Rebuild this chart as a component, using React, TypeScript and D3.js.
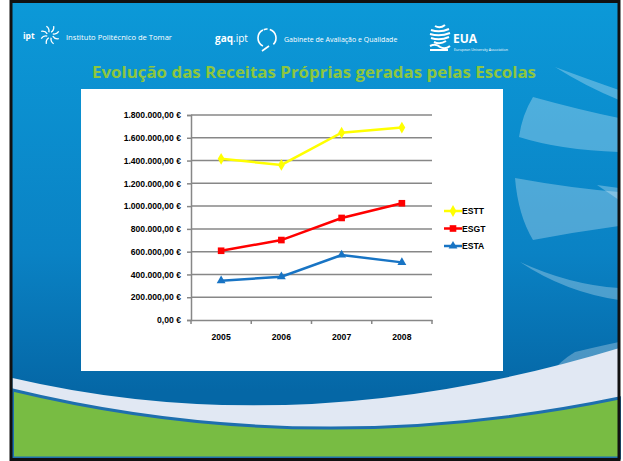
import React, { useEffect, useRef } from "react";
import * as d3 from "d3";

const years = ["2005", "2006", "2007", "2008"];
const seriesNames = ["ESTT", "ESGT", "ESTA"];
const esttValues = [1415000, 1362000, 1645000, 1690000];
const esgtValues = [608000, 702000, 896000, 1025000];
const estaValues = [345000, 380000, 571000, 506000];
const seriesColors = ["#ffff00", "#ff0000", "#1874c4"];
const markerTypes = ["diamond", "square", "triangle"];
const yTicks = [0, 200000, 400000, 600000, 800000, 1000000, 1200000, 1400000, 1600000, 1800000];
const title = "Evolução das Receitas Próprias geradas pelas Escolas";

const W = 623;
const H = 461;

const ptLocale = d3.formatLocale({
  decimal: ",",
  thousands: ".",
  grouping: [3],
  currency: ["", " €"],
});
const fmtEuro = ptLocale.format("$,.2f");

export default function App() {
  const svgRef = useRef<SVGSVGElement>(null);

  useEffect(() => {
    const svg = d3.select(svgRef.current);
    svg.selectAll("*").remove();

    // ---- slide background ----
    const defs = svg.append("defs");
    const grad = defs
      .append("linearGradient")
      .attr("id", "bg")
      .attr("x1", 0)
      .attr("y1", 0)
      .attr("x2", 0)
      .attr("y2", 1);
    grad.append("stop").attr("offset", "0%").attr("stop-color", "#0c99d8");
    grad.append("stop").attr("offset", "55%").attr("stop-color", "#0a82c4");
    grad.append("stop").attr("offset", "85%").attr("stop-color", "#0567a6");

    svg.append("rect").attr("x", 0).attr("y", 0).attr("width", W).attr("height", H).attr("fill", "#fff");
    svg
      .append("rect")
      .attr("x", 11)
      .attr("y", 1.5)
      .attr("width", 608)
      .attr("height", 458)
      .attr("fill", "url(#bg)");

    // light swooshes on the right
    const swooshes = [
      "M555,67 Q590,80 619,90 L619,100 Q585,86 555,67 Z",
      "M533,97 Q580,110 619,118 L619,152 Q560,150 519,137 Q522,115 533,97 Z",
      "M515,178 Q570,188 619,192 L619,226 Q575,232 533,240 Q518,215 515,178 Z",
      "M597,185 L619,188 L619,200 Z",
      "M520,262 Q570,285 619,288 L619,300 Q565,292 520,262 Z",
      "M540,400 Q545,370 575,352 Q600,346 619,342 L619,395 Z",
    ];
    svg
      .append("g")
      .selectAll("path")
      .data(swooshes)
      .join("path")
      .attr("d", (d) => d)
      .attr("fill", "#ffffff")
      .attr("fill-opacity", 0.28);

    // bottom waves
    svg
      .append("path")
      .attr("d", "M12.5,378 Q300,445 619.5,348 L619.5,458 L12.5,458 Z")
      .attr("fill", "#e1e8f3");
    svg
      .append("path")
      .attr("d", "M12.5,390 Q310,462 619.5,398 L619.5,458 L12.5,458 Z")
      .attr("fill", "#78bc43")
      .attr("stroke", "#1e6fae")
      .attr("stroke-width", 3);
    svg
      .append("rect")
      .attr("x", 11)
      .attr("y", 1.5)
      .attr("width", 608)
      .attr("height", 458)
      .attr("fill", "none")
      .attr("stroke", "#111")
      .attr("stroke-width", 3);

    // ---- header logos ----
    const hdr = svg.append("g").attr("fill", "#fff").attr("font-family", "'Open Sans', sans-serif");
    hdr.append("text").attr("x", 23).attr("y", 39).attr("font-size", 8.5).attr("font-weight", "bold").text("ipt");
    const star = hdr.append("g").attr("transform", "translate(50,35)").attr("stroke", "#fff").attr("stroke-width", 1.3).attr("fill", "none");
    d3.range(8).forEach((i) => {
      const a = (i / 8) * Math.PI * 2 + Math.PI / 8;
      const r1 = 3, r2 = 9.5;
      const cx = Math.cos(a + 0.35) * 6.5, cy = Math.sin(a + 0.35) * 6.5;
      star
        .append("path")
        .attr("d", `M${Math.cos(a) * r1},${Math.sin(a) * r1} Q${cx},${cy} ${Math.cos(a) * r2},${Math.sin(a) * r2}`);
    });
    hdr.append("text").attr("x", 66).attr("y", 40).attr("font-size", 7.6).text("Instituto Politécnico de Tomar");

    const gaq = hdr.append("text").attr("x", 215).attr("y", 42).attr("font-size", 10);
    gaq.append("tspan").attr("font-weight", "bold").text("gaq");
    gaq.append("tspan").text(".ipt");
    const br = hdr.append("g").attr("transform", "translate(267,38)").attr("stroke", "#fff").attr("stroke-width", 1.6).attr("fill", "none");
    const arc = d3.arc();
    br.append("path").attr("d", arc({ innerRadius: 9, outerRadius: 9, startAngle: Math.PI * 1.15, endAngle: Math.PI * 1.85 } as any) as string);
    br.append("path").attr("d", arc({ innerRadius: 9, outerRadius: 9, startAngle: Math.PI * 0.1, endAngle: Math.PI * 0.75 } as any) as string);
    br.append("path").attr("d", arc({ innerRadius: 9, outerRadius: 9, startAngle: -Math.PI * 0.12, endAngle: Math.PI * 0.02 } as any) as string);
    br.append("line").attr("x1", 2).attr("y1", 8).attr("x2", -5).attr("y2", 13);
    hdr.append("text").attr("x", 284).attr("y", 42).attr("font-size", 7).text("Gabinete de Avaliação e Qualidade");

    const globe = hdr.append("g").attr("transform", "translate(440,37)").attr("stroke", "#fff").attr("fill", "none").attr("stroke-width", 2);
    [-11, -7, -3, 1, 5].forEach((dy, i) => {
      const w = [5, 9, 10, 9, 6][i];
      globe.append("path").attr("d", `M${-w},${dy} Q0,${dy + 3} ${w},${dy - 1}`);
    });
    globe.append("path").attr("d", "M-10,9 Q-4,6 0,10 Q5,13 10,9");
    globe.append("line").attr("x1", -10).attr("y1", 13).attr("x2", 8).attr("y2", 13);
    hdr.append("text").attr("x", 453).attr("y", 43).attr("font-size", 12).attr("font-weight", "bold").text("EUA");
    hdr.append("text").attr("x", 454).attr("y", 51).attr("font-size", 3.6).text("European University Association");

    // ---- title ----
    svg
      .append("text")
      .attr("x", 92)
      .attr("y", 78)
      .attr("font-family", "'Open Sans', sans-serif")
      .attr("font-size", 16)
      .attr("font-weight", "bold")
      .attr("fill", "#8dc63f")
      .attr("textLength", 444)
      .attr("lengthAdjust", "spacingAndGlyphs")
      .text(title);

    // ---- chart box ----
    svg.append("rect").attr("x", 81).attr("y", 89).attr("width", 422).attr("height", 282).attr("fill", "#fff");

    const x = d3.scaleBand().domain(years).range([191, 432]).padding(0);
    const y = d3.scaleLinear().domain([0, 1800000]).range([320, 115]);
    const cx = (d: string) => (x(d) as number) + x.bandwidth() / 2;

    const font = "'Liberation Sans', Arial, sans-serif";

    // gridlines
    svg
      .append("g")
      .selectAll("line")
      .data(yTicks.filter((t) => t > 0))
      .join("line")
      .attr("x1", 191)
      .attr("x2", 432)
      .attr("y1", (d) => y(d))
      .attr("y2", (d) => y(d))
      .attr("stroke", "#878787")
      .attr("stroke-width", 1.5);

    const yAxis = svg
      .append("g")
      .attr("transform", "translate(191,0)")
      .call(d3.axisLeft(y).tickValues(yTicks).tickFormat((d) => fmtEuro(d as number)).tickSize(4).tickPadding(6));
    yAxis.select(".domain").attr("stroke", "#878787").attr("stroke-width", 1.5);
    yAxis.selectAll(".tick line").attr("stroke", "#878787").attr("stroke-width", 1.5);
    yAxis
      .selectAll(".tick text")
      .attr("font-family", font)
      .attr("font-size", 8.6)
      .attr("font-weight", "bold")
      .attr("fill", "#000");

    const xAxis = svg
      .append("g")
      .attr("transform", "translate(0,320)")
      .call(d3.axisBottom(x).tickSize(0).tickPadding(14));
    xAxis.select(".domain").attr("stroke", "#878787").attr("stroke-width", 1.5);
    xAxis
      .selectAll(".tick text")
      .attr("font-family", font)
      .attr("font-size", 8.6)
      .attr("font-weight", "bold")
      .attr("fill", "#000");
    xAxis
      .append("g")
      .selectAll("line")
      .data([...years.map((d) => x(d) as number), 432])
      .join("line")
      .attr("x1", (d) => d)
      .attr("x2", (d) => d)
      .attr("y1", 0)
      .attr("y2", 4)
      .attr("stroke", "#878787")
      .attr("stroke-width", 1.5);

    // series
    const allSeries = [esttValues, esgtValues, estaValues];
    const line = d3
      .line<number>()
      .x((_, i) => cx(years[i]))
      .y((d) => y(d));

    const symbolFor = (t: string) =>
      t === "diamond" ? d3.symbol(d3.symbolDiamond, 40) : t === "square" ? d3.symbol(d3.symbolSquare, 44) : d3.symbol(d3.symbolTriangle, 34);

    allSeries.forEach((vals, si) => {
      const g = svg.append("g");
      g.append("path")
        .attr("d", line(vals) as string)
        .attr("fill", "none")
        .attr("stroke", seriesColors[si])
        .attr("stroke-width", 2.5);
      g.selectAll("path.m")
        .data(vals)
        .join("path")
        .attr("class", "m")
        .attr("transform", (d, i) => `translate(${cx(years[i])},${y(d)})`)
        .attr("d", symbolFor(markerTypes[si])() as string)
        .attr("fill", seriesColors[si]);
    });

    // legend
    const legend = svg.append("g").attr("transform", "translate(444,211)");
    seriesNames.forEach((name, i) => {
      const item = legend.append("g").attr("transform", `translate(0,${i * 17.5})`);
      item.append("line").attr("x1", 0).attr("x2", 18).attr("stroke", seriesColors[i]).attr("stroke-width", 2.5);
      item
        .append("path")
        .attr("transform", "translate(9,0)")
        .attr("d", symbolFor(markerTypes[i])() as string)
        .attr("fill", seriesColors[i]);
      item
        .append("text")
        .attr("x", 18)
        .attr("y", 3)
        .attr("font-family", font)
        .attr("font-size", 8.6)
        .attr("font-weight", "bold")
        .text(name);
    });
  }, []);

  return (
    <svg
      ref={svgRef}
      width={W}
      height={H}
      style={{ position: "absolute", left: 0, top: 0, display: "block" }}
    />
  );
}
